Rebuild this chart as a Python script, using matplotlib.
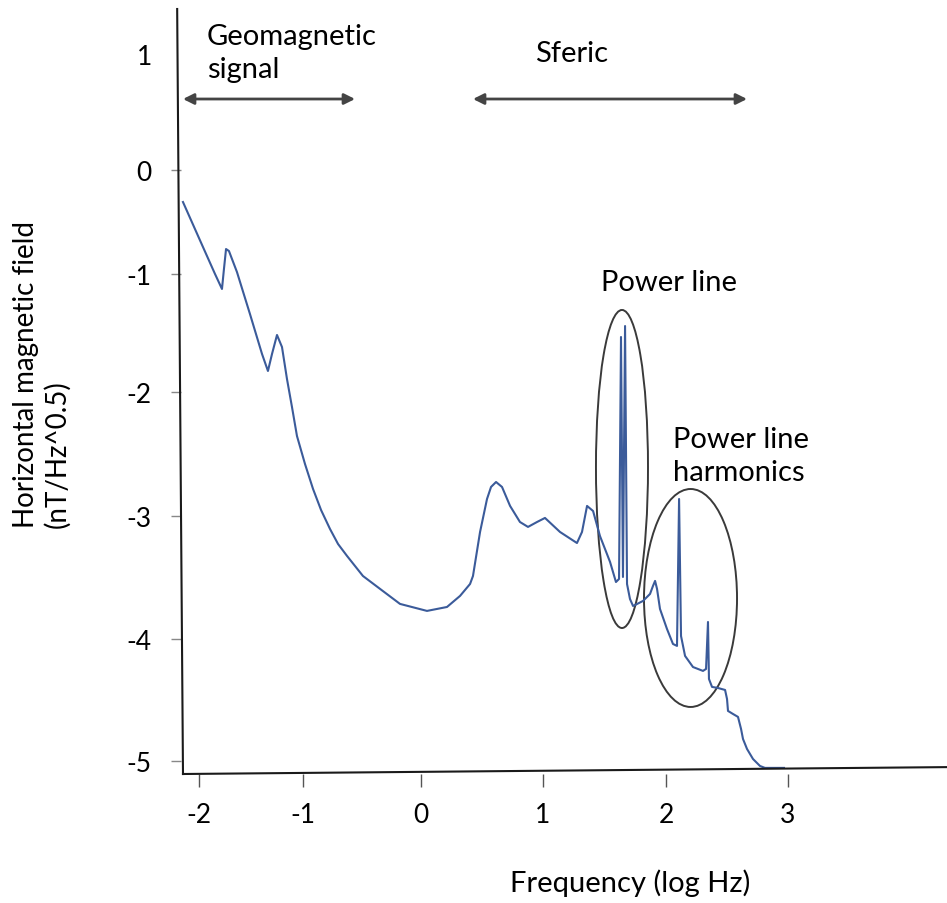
import numpy as np
import matplotlib
matplotlib.use("Agg")
import matplotlib.pyplot as plt
from matplotlib.patches import Ellipse

plt.rcParams['font.family'] = ['Lato', 'DejaVu Sans']

# spectrum (log Hz, log nT/Hz^0.5)
freq = [-2.154, -1.962, -1.846, -1.779, -1.760, -1.740, -1.712, -1.635, -1.510, -1.394,
        -1.337, -1.298, -1.250, -1.202, -1.154, -1.106, -1.058, -0.983, -0.915, -0.847,
        -0.771, -0.703, -0.627, -0.492, -0.347, -0.178, 0.049, 0.213, 0.320, 0.402,
        0.426, 0.484, 0.541, 0.574, 0.615, 0.664, 0.730, 0.811, 0.877, 0.951,
        1.016, 1.138, 1.276, 1.317, 1.358, 1.407, 1.463, 1.545, 1.593, 1.618,
        1.634, 1.650, 1.667, 1.683, 1.707, 1.732, 1.813, 1.870, 1.894, 1.911,
        1.927, 1.951, 2.008, 2.057, 2.090, 2.107, 2.123, 2.156, 2.221, 2.303,
        2.328, 2.344, 2.352, 2.377, 2.426, 2.484, 2.500, 2.508, 2.549, 2.590,
        2.615, 2.631, 2.664, 2.713, 2.770, 2.811, 2.967]
field = [-0.308, -0.740, -1.000, -1.127, -0.952, -0.760, -0.779, -0.981, -1.339, -1.678,
         -1.822, -1.678, -1.517, -1.619, -1.890, -2.121, -2.355, -2.581, -2.782, -2.952,
         -3.106, -3.228, -3.325, -3.488, -3.593, -3.715, -3.772, -3.740, -3.650, -3.553,
         -3.488, -3.130, -2.863, -2.766, -2.726, -2.766, -2.919, -3.049, -3.089, -3.049,
         -3.016, -3.130, -3.220, -3.130, -2.919, -2.960, -3.163, -3.374, -3.537, -3.512,
         -1.534, -3.496, -1.441, -3.553, -3.675, -3.732, -3.691, -3.634, -3.569, -3.528,
         -3.593, -3.756, -3.919, -4.041, -4.057, -2.863, -3.976, -4.139, -4.230, -4.262,
         -4.246, -3.862, -4.328, -4.393, -4.402, -4.418, -4.492, -4.590, -4.615, -4.639,
         -4.738, -4.820, -4.902, -4.984, -5.041, -5.057, -5.057]

x_ticks = [-2, -1, 0, 1, 2, 3]
y_ticks = [-5, -4, -3, -2, -1, 0, 1]

# the hand drawn axes are not evenly spaced: calibration knots (value -> pixel)
x_knots = [-3, -2, -1, 0, 1, 2, 3, 4, 5]
x_pix = [95, 199, 303, 421, 543, 666, 788, 910, 1032]
y_knots = [-6, -5, -4, -3, -2, -1, 0, 1, 2]
y_pix = [20, 142, 264, 387, 511, 629, 733, 849, 965]


def fwd(k, p):
    return lambda v: np.interp(v, k, p)


def inv(k, p):
    return lambda v: np.interp(v, p, k)


W, H = 947, 904
fig = plt.figure(figsize=(W / 100, H / 100), dpi=100)
ax = fig.add_axes([181 / W, (H - 775) / H, (W - 181) / W, (775 - 10) / H])
ax.set_xscale('function', functions=(fwd(x_knots, x_pix), inv(x_knots, x_pix)))
ax.set_yscale('function', functions=(fwd(y_knots, y_pix), inv(y_knots, y_pix)))
ax.set_xlim(-2.173, 4.303)
ax.set_ylim(-5.107, 1.388)

ax.plot(freq, field, color='#3b5b9a', lw=1.5, solid_joinstyle='round')

for s in ax.spines.values():
    s.set_visible(False)
# slightly skewed axis lines, like the drawing
ax.plot([-0.005, 0.0026], [1, 0], transform=ax.transAxes, color='#1a1a1a', lw=1.5, clip_on=False)
ax.plot([0.0026, 1], [0, 0.009], transform=ax.transAxes, color='#1a1a1a', lw=1.5, clip_on=False)

ax.set_xticks(x_ticks)
ax.set_yticks(y_ticks)
ax.set_xticklabels([str(t) for t in x_ticks])
ax.set_yticklabels([str(t) for t in y_ticks])
ax.tick_params(axis='x', length=9, width=1, color='#555555', pad=11, labelsize=19)
ax.tick_params(axis='y', length=7, width=1, color='#888888', pad=14, labelsize=19)
ax.yaxis.get_major_ticks()[-1].tick1line.set_visible(False)
ax.minorticks_off()

# annotations
arr = dict(arrowstyle='<|-|>', color='#444444', lw=2, mutation_scale=16, shrinkA=0, shrinkB=0)
ax.annotate('', xy=(-0.559, 0.612), xytext=(-2.154, 0.612), arrowprops=arr, annotation_clip=False)
ax.annotate('', xy=(2.664, 0.612), xytext=(0.426, 0.612), arrowprops=arr, annotation_clip=False)

# va='baseline' on multi-line text sits on the last line
ax.text(-1.923, 0.802, 'Geomagnetic\nsignal', fontsize=21, va='baseline', ha='left', linespacing=1.35)
ax.text(0.934, 0.940, 'Sferic', fontsize=21, va='baseline', ha='left')
ax.text(1.472, -1.136, 'Power line', fontsize=21, va='baseline', ha='left')
ax.text(2.057, -2.710, 'Power line\nharmonics', fontsize=21, va='baseline', ha='left', linespacing=1.35)

ax.add_patch(Ellipse((1.642, -2.608), 0.423, 2.606, fill=False, ec='#3a3a3a', lw=1.4))
ax.add_patch(Ellipse((2.2015, -3.670), 0.761, 1.775, fill=False, ec='#3a3a3a', lw=1.4))

fig.text(42 / W, 1 - 375 / H, 'Horizontal magnetic field\n(nT/Hz^0.5)', rotation=90,
         ha='center', va='center', multialignment='left', fontsize=20)
fig.text(630 / W, 1 - 883 / H, 'Frequency (log Hz)', ha='center', va='center', fontsize=21)

fig.savefig('out.png', dpi=100)
